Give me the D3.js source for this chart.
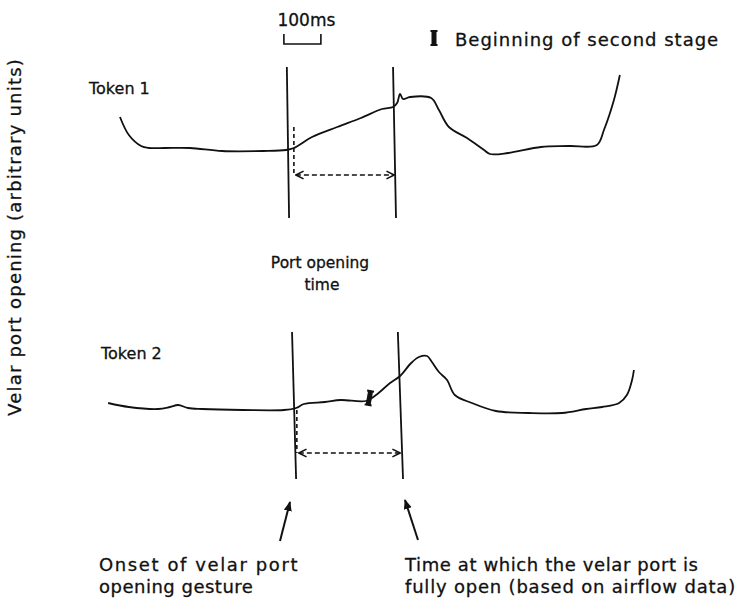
<!DOCTYPE html>
<html>
<head>
<meta charset="utf-8">
<script src="https://cdn.jsdelivr.net/npm/d3@7"></script>
<style>
  body { margin: 0; background: #fff; }
  text { font-family: "DejaVu Sans", sans-serif; fill: #111; stroke: #111; stroke-width: 0.3; }
</style>
</head>
<body>
<svg></svg>
<script>
// time in ms, velar opening in arbitrary units
const token1Time = [54, 78, 111, 132, 176, 243, 330, 441, 503, 524, 573, 641, 705, 762, 792, 803, 811, 819, 838, 895, 916, 943, 992, 1038, 1054, 1103, 1192, 1268, 1343, 1362, 1389, 1405];
const token1Open = [4.3, 2.5, 1.4, 1.2, 1.2, 1.2, 0.9, 0.9, 1.0, 1.2, 2.3, 3.3, 4.2, 5.1, 5.3, 5.7, 6.6, 6.1, 6.3, 6.2, 5.0, 3.3, 2.2, 1.0, 0.6, 0.7, 1.3, 1.4, 1.5, 3.0, 6.0, 8.5];
const token2Time = [22, 78, 157, 189, 211, 238, 276, 386, 497, 530, 551, 608, 651, 719, 746, 784, 811, 841, 862, 884, 897, 916, 938, 959, 1005, 1070, 1159, 1249, 1314, 1357, 1403, 1424, 1438, 1443];
const token2Open = [1.7, 1.3, 1.1, 1.3, 1.5, 1.2, 1.1, 1.0, 1.0, 1.2, 1.6, 1.8, 2.0, 1.9, 2.5, 3.7, 4.4, 5.7, 6.3, 6.4, 5.8, 4.8, 4.0, 2.5, 1.7, 0.9, 0.7, 0.7, 1.1, 1.3, 1.7, 2.5, 4.0, 5.0];

// onset and fully-open lines: [time at top, time at bottom]
const token1Guides = [[505, 511], [792, 800]];
const token2Guides = [[519, 530], [805, 819]];
const token1GuideSpan = [9.3, -5.8];
const token2GuideSpan = [8.8, -5.9];
// port opening time (dashed): [start, end, top, level]
const token1Opening = [524, 795, 3.3, -1.5];
const token2Opening = [532, 811, 1.0, -3.3];
const secondStage = { time: 728, open: 2.2 };
const scaleBar = [497, 597];

const W = 740, H = 601;
const svg = d3.select("svg").attr("width", W).attr("height", H);

const x = d3.scaleLinear().domain([0, 1700]).range([100, 729]);
const y1 = d3.scaleLinear().domain([0, 10]).range([160, 60]);
const y2 = d3.scaleLinear().domain([0, 10]).range([420, 320]);

const defs = svg.append("defs");
defs.append("marker")
  .attr("id", "chev")
  .attr("viewBox", "0 -5 10 10")
  .attr("refX", 9).attr("refY", 0)
  .attr("markerWidth", 6).attr("markerHeight", 6)
  .attr("orient", "auto-start-reverse")
  .append("path")
  .attr("d", "M1,-4L9,0L1,4")
  .attr("fill", "none")
  .attr("stroke", "#111")
  .attr("stroke-width", 1.6);
defs.append("marker")
  .attr("id", "head")
  .attr("viewBox", "0 -5 10 10")
  .attr("refX", 9).attr("refY", 0)
  .attr("markerWidth", 5).attr("markerHeight", 5)
  .attr("orient", "auto")
  .append("path")
  .attr("d", "M0,-4L10,0L0,4Z")
  .attr("fill", "#111");

const line = d3.line().curve(d3.curveCatmullRom.alpha(0.5));

const drawToken = (times, opens, y, guides, span, opening, label, labelX) => {
  const g = svg.append("g");
  g.append("path")
    .attr("d", line(times.map((t, i) => [x(t), y(opens[i])])))
    .attr("fill", "none")
    .attr("stroke", "#111")
    .attr("stroke-width", 1.8);

  g.selectAll("line.guide")
    .data(guides)
    .enter()
    .append("line")
    .attr("class", "guide")
    .attr("x1", d => x(d[0])).attr("y1", y(span[0]))
    .attr("x2", d => x(d[1])).attr("y2", y(span[1]))
    .attr("stroke", "#111")
    .attr("stroke-width", 1.8);

  const [t0, t1, top, lvl] = opening;
  g.append("line")
    .attr("x1", x(t0)).attr("y1", y(top))
    .attr("x2", x(t0)).attr("y2", y(lvl))
    .attr("stroke", "#111")
    .attr("stroke-width", 1.6)
    .attr("stroke-dasharray", "4,3");
  g.append("line")
    .attr("x1", x(t0) + 2).attr("y1", y(lvl))
    .attr("x2", x(t1)).attr("y2", y(lvl))
    .attr("stroke", "#111")
    .attr("stroke-width", 1.6)
    .attr("stroke-dasharray", "5,3")
    .attr("marker-start", "url(#chev)")
    .attr("marker-end", "url(#chev)");

  g.append("text")
    .attr("x", labelX)
    .attr("y", y(span[0]) + 27)
    .attr("font-size", 16)
    .text(label);
};

drawToken(token1Time, token1Open, y1, token1Guides, token1GuideSpan, token1Opening, "Token 1", 89);
drawToken(token2Time, token2Open, y2, token2Guides, token2GuideSpan, token2Opening, "Token 2", 101);

// beginning of second stage marker
const stageMark = (cx, cy, rot) =>
  svg.append("path")
    .attr("transform", `translate(${cx},${cy}) rotate(${rot})`)
    .attr("d", "M-3.5,-8H3.5V-6H2.5V6H3.5V8H-3.5V6H-2.5V-6H-3.5Z")
    .attr("fill", "#111");
stageMark(x(secondStage.time), y2(secondStage.open), 10);
stageMark(434, 38, 0);

svg.append("text")
  .attr("x", 455).attr("y", 46)
  .attr("font-size", 18)
  .attr("letter-spacing", 1)
  .text("Beginning of second stage");

// 100 ms scale bar
svg.append("path")
  .attr("d", `M${x(scaleBar[0])},34V44H${x(scaleBar[1])}V34`)
  .attr("fill", "none")
  .attr("stroke", "#111")
  .attr("stroke-width", 1.6);
svg.append("text")
  .attr("x", (x(scaleBar[0]) + x(scaleBar[1])) / 2 + 4).attr("y", 26)
  .attr("text-anchor", "middle")
  .attr("font-size", 17)
  .text("100ms");

svg.append("text")
  .attr("x", 320).attr("y", 268)
  .attr("text-anchor", "middle")
  .attr("font-size", 15.5)
  .text("Port opening");
svg.append("text")
  .attr("x", 322).attr("y", 290)
  .attr("text-anchor", "middle")
  .attr("font-size", 15.5)
  .text("time");

svg.append("text")
  .attr("transform", "translate(21,237) rotate(-90)")
  .attr("text-anchor", "middle")
  .attr("font-size", 18)
  .attr("letter-spacing", 1.2)
  .text("Velar port opening (arbitrary units)");

// pointer arrows
[[280, 541, 290, 502], [418, 540, 405, 500]].forEach(([ax, ay, bx, by]) =>
  svg.append("line")
    .attr("x1", ax).attr("y1", ay)
    .attr("x2", bx).attr("y2", by)
    .attr("stroke", "#111")
    .attr("stroke-width", 2)
    .attr("marker-end", "url(#head)")
);

const notes = [
  [99, 571, "Onset of velar port", 1.6],
  [99, 593, "opening gesture", 0.5],
  [405, 571, "Time at which the velar port is", 0.6],
  [405, 593, "fully open (based on airflow data)", 0.8]
];
svg.selectAll("text.note")
  .data(notes)
  .enter()
  .append("text")
  .attr("class", "note")
  .attr("x", d => d[0]).attr("y", d => d[1])
  .attr("font-size", 18)
  .attr("letter-spacing", d => d[3])
  .text(d => d[2]);
</script>
</body>
</html>
